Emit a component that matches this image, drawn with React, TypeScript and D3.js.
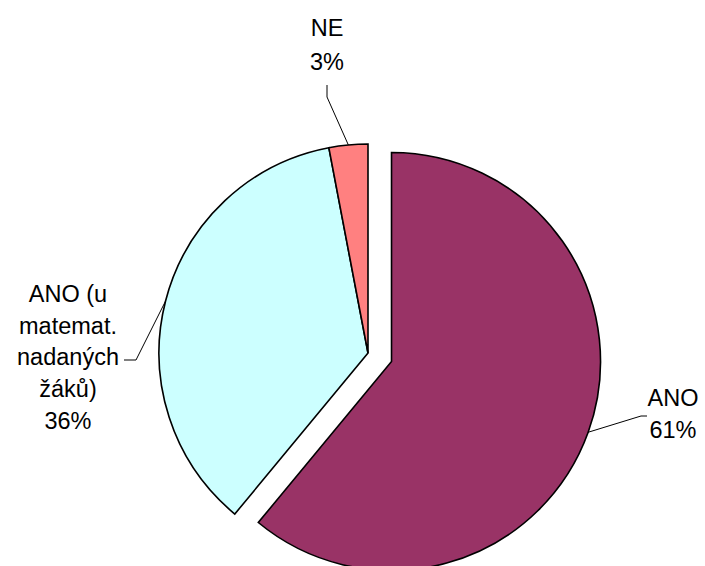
import React from "react";
import * as d3 from "d3";

// Categories and their shares (percent)
const categories = ["ANO", "ANO (u matemat. nadaných žáků)", "NE"];
const values = [61, 36, 3];
const labelLines = [["ANO"], ["ANO (u", "matemat.", "nadaných", "žáků)"], ["NE"]];
const colors = ["#993366", "#CCFFFF", "#FF8080"];
const exploded = [true, false, false];

const W = 705;
const H = 566;
const cx = 368;
const cy = 353;
const R = 209;
const explodeBy = 25;
const font = "'Liberation Sans', Arial, sans-serif";

// Label placement: text anchor point, line spacing and leader path (relative)
const labelLayout = [
  { x: 673, y: 406, dy: 32, leader: (p: [number, number]) => [p, [641, 416], [647, 416]] },
  { x: 68, y: 302, dy: 31.7, leader: (p: [number, number]) => [p, [136, 360], [124, 360]] },
  { x: 327, y: 36, dy: 34, leader: (p: [number, number]) => [p, [327, 97], [327, 85]] },
];

export default function App() {
  const pie = d3.pie<number>().sort(null).value((d) => d)(values);
  const arc = d3.arc<d3.PieArcDatum<number>>().innerRadius(0).outerRadius(R);
  const total = d3.sum(values);

  return (
    <svg
      width={W}
      height={H}
      style={{ position: "absolute", left: 0, top: 0, background: "#fff" }}
      fontFamily={font}
    >
      {pie.map((p, i) => {
        const mid = (p.startAngle + p.endAngle) / 2;
        const off = exploded[i] ? explodeBy : 0;
        const ox = cx + off * Math.sin(mid);
        const oy = cy - off * Math.cos(mid);
        return (
          <g key={categories[i]} transform={`translate(${ox},${oy})`}>
            <path d={arc(p) || ""} fill={colors[i]} stroke="#000" strokeWidth={1.6} strokeLinejoin="miter" />
          </g>
        );
      })}
      {pie.map((p, i) => {
        const mid = (p.startAngle + p.endAngle) / 2;
        const off = exploded[i] ? explodeBy : 0;
        const ex = cx + (off + R) * Math.sin(mid);
        const ey = cy - (off + R) * Math.cos(mid);
        const L = labelLayout[i];
        const pts = L.leader([ex, ey]);
        const lines = [...labelLines[i], `${Math.round((values[i] / total) * 100)}%`];
        return (
          <g key={"lab" + i}>
            <path d={d3.line()(pts as [number, number][]) || ""} fill="none" stroke="#000" strokeWidth={1} />
            <text x={L.x} y={L.y} textAnchor="middle" fontSize={23.5} fill="#000">
              {lines.map((t, j) => (
                <tspan key={j} x={L.x} y={L.y + j * L.dy}>
                  {t}
                </tspan>
              ))}
            </text>
          </g>
        );
      })}
    </svg>
  );
}
